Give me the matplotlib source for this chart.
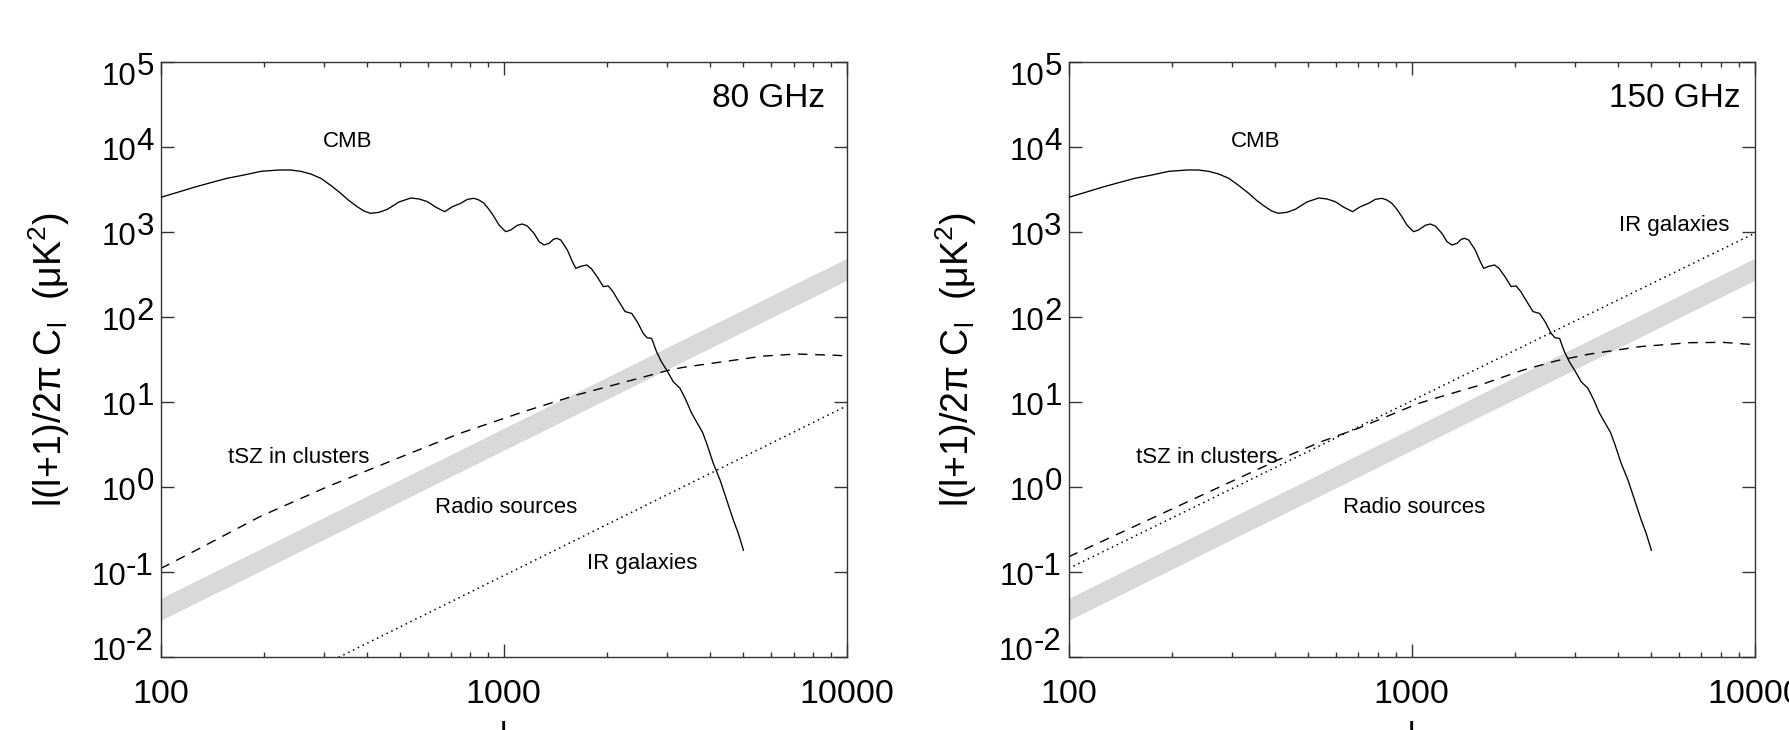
import matplotlib
matplotlib.use("Agg")
import matplotlib.pyplot as plt
from matplotlib.ticker import NullLocator, FixedLocator, LogLocator, NullFormatter

plt.rcParams['font.family'] = ['Liberation Sans', 'DejaVu Sans']
plt.rcParams['mathtext.fontset'] = 'custom'
plt.rcParams['mathtext.rm'] = 'Liberation Sans'

# CMB power spectrum (same in both panels)
l_cmb = [100, 112, 125, 140, 156, 175, 196, 221, 239, 256, 274, 293, 313, 335,
         354, 374, 391, 409, 433, 458, 495, 536, 567, 599, 635, 673, 709, 749,
         784, 819, 847, 876, 906, 937, 969, 1013, 1048, 1096, 1133, 1172, 1226,
         1268, 1311, 1356, 1396, 1427, 1467, 1533, 1586, 1622, 1680, 1746, 1800,
         1870, 1951, 2017, 2080, 2150, 2258, 2362, 2450, 2553, 2620, 2700, 2790,
         2880, 2985, 3122, 3266, 3400, 3530, 3690, 3800, 3905, 4083, 4273, 4470,
         4670, 4830, 5000]
d_cmb = [2557, 2929, 3354, 3806, 4280, 4685, 5172, 5363, 5363, 5172, 4813, 4280,
         3540, 2850, 2337, 1986, 1767, 1658, 1704, 1848, 2254, 2512, 2445, 2275,
         1951, 1735, 1986, 2175, 2423, 2490, 2380, 2175, 1848, 1515, 1209, 1009,
         1056, 1198, 1242, 1177, 964, 770, 703, 736, 820, 842, 805, 614, 448,
         374, 395, 409, 372, 300, 228, 232, 200, 160, 116, 110, 88, 64, 57, 56,
         39, 30, 23.8, 17.3, 14.5, 10.5, 7.4, 5.4, 4.4, 3.27, 1.9, 1.21, 0.70,
         0.41, 0.285, 0.18]

# tSZ in clusters
l_tsz_80 = [100, 130, 195, 305, 477, 746, 853, 1167, 1632, 3047, 3342, 5716,
            7147, 9350, 10000]
d_tsz_80 = [0.110, 0.19, 0.45, 1.0, 2.08, 4.28, 5.15, 7.9, 12.1, 23.8, 25.6,
            34.7, 36.7, 35.4, 34.8]
l_tsz_150 = [100, 408, 545, 698, 1045, 1211, 1582, 2117, 2650, 3311,
             4630, 6480, 8110, 9380, 10000]
d_tsz_150 = [0.151, 2.08, 3.41, 4.9, 9.6, 11.5, 15.8, 23.8, 30.6,
             36.7, 44.8, 49.9, 50.3, 48.1, 47.5]

# radio sources band (both panels)
l_radio = [100, 10000]
radio_lo = [0.027, 270]
radio_hi = [0.049, 490]

# IR galaxies
l_ir_80 = [330, 10000]
d_ir_80 = [0.0099, 9.0]
l_ir_150 = [100, 10000]
d_ir_150 = [0.11, 966]

# y axis decades
y_exp = [-2, -1, 0, 1, 2, 3, 4, 5]

panels = [
    dict(name="80 GHz", l_tsz=l_tsz_80, d_tsz=d_tsz_80, l_ir=l_ir_80, d_ir=d_ir_80,
         freq_x=0.968, ir_pos=(1750, 0.108), ir_ha="left"),
    dict(name="150 GHz", l_tsz=l_tsz_150, d_tsz=d_tsz_150, l_ir=l_ir_150, d_ir=d_ir_150,
         freq_x=0.9796, ir_pos=(8470, 1028), ir_ha="right"),
]

fig = plt.figure(figsize=(17.9, 7.3), dpi=100)
lefts = [160.7 / 1790, 1068.6 / 1790]

for p, left in zip(panels, lefts):
    ax = fig.add_axes([left, 73 / 730, 686 / 1790, 595 / 730])
    ax.set_xscale("log")
    ax.set_yscale("log")
    ax.set_xlim(100, 10000)
    ax.set_ylim(1e-2, 1e5)

    ax.fill_between(l_radio, radio_lo, radio_hi, color="#d9d9d9", lw=0, zorder=1)
    ax.plot(l_cmb, d_cmb, color="black", lw=0.95, zorder=3)
    ax.plot(p["l_tsz"], p["d_tsz"], color="black", lw=1.0, ls=(0, (7, 5.5)), zorder=2)
    ax.plot(p["l_ir"], p["d_ir"], color="black", lw=1.1, ls=(0, (1, 2.5)), zorder=2)

    lab = dict(fontsize=16, va="baseline")
    ax.text(297, 1e4, "CMB", ha="left", **lab)
    ax.text(157, 1.91, "tSZ in clusters", ha="left", **lab)
    ax.text(631, 0.494, "Radio sources", ha="left", **lab)
    ax.text(p["ir_pos"][0], p["ir_pos"][1], "IR galaxies", ha=p["ir_ha"], **lab)
    ax.text(p["freq_x"], 0.925, p["name"], fontsize=24, ha="right", va="baseline",
            transform=ax.transAxes)

    # axes styling
    for s in ax.spines.values():
        s.set_linewidth(1.0)
        s.set_color("#333333")
    ax.xaxis.set_major_locator(FixedLocator([100, 1000, 10000]))
    ax.xaxis.set_minor_locator(LogLocator(base=10, subs=range(2, 10)))
    ax.xaxis.set_minor_formatter(NullFormatter())
    ax.set_xticklabels(["100", "1000", "10000"])
    ax.yaxis.set_major_locator(FixedLocator([10.0 ** k for k in y_exp]))
    ax.yaxis.set_minor_locator(NullLocator())
    ax.tick_params(which="both", direction="in", top=True, right=True,
                   width=1.0, color="#333333")
    ax.tick_params(which="major", length=9.5)
    ax.tick_params(which="minor", length=3.8)
    ax.tick_params(axis="x", labelsize=24.5, pad=15.5)
    ax.tick_params(axis="y", labelleft=False)

    # y tick labels: "10" with a raised exponent; end labels pulled inside the range
    for k in y_exp:
        dy = -2.2
        if k == y_exp[-1]:
            dy -= 7.2
        elif k == y_exp[0]:
            dy += 7.2
        e = ax.annotate(str(k), xy=(0, 10.0 ** k), xycoords=("axes fraction", "data"),
                        xytext=(-5, dy), textcoords="offset points",
                        ha="right", va="baseline", fontsize=22.5, annotation_clip=False)
        ax.annotate("10", xy=(0, 0), xycoords=e, xytext=(0, -7.2),
                    textcoords="offset points", ha="right", va="bottom", fontsize=22.5,
                    annotation_clip=False)

    ax.set_ylabel(r"l(l+1)/2π C$_\mathregular{l}$  (μK$^\mathregular{2}$)", fontsize=27)
    ax.yaxis.set_label_coords(-0.13, 0.5)
    ax.set_xlabel("l", fontsize=24, va="top")
    ax.xaxis.set_label_coords(0.5, -0.1076)

fig.savefig("out.png", dpi=100)
